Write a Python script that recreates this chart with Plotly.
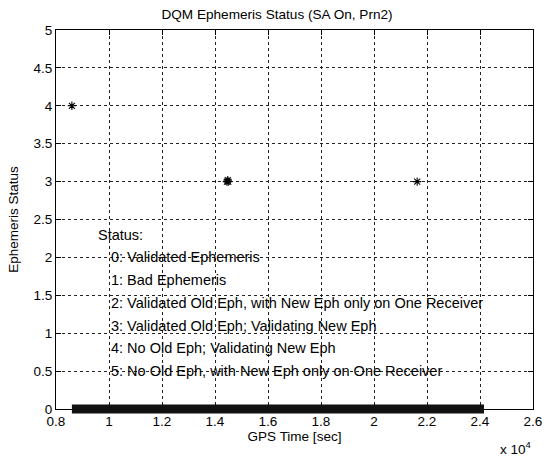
import plotly.graph_objects as go

# ---- data ----
status0_time = [8600, 24150]          # dense run of status 0 samples (start, end)
status0_value = [0, 0]
event_time = [8600, 14450, 14480, 14500, 21630]
event_value = [4, 3, 3.02, 3, 3]

x_tick_labels = ["0.8", "1", "1.2", "1.4", "1.6", "1.8", "2", "2.2", "2.4", "2.6"]
y_tick_labels = ["0", "0.5", "1", "1.5", "2", "2.5", "3", "3.5", "4", "4.5", "5"]

legend_title = "Status:"
legend_lines = [
    "0: Validated Ephemeris",
    "1: Bad Ephemeris",
    "2: Validated Old Eph, with New Eph only on One Receiver",
    "3: Validated Old Eph; Validating New Eph",
    "4: No Old Eph; Validating New Eph",
    "5: No Old Eph, with New Eph only on One Receiver",
]
legend_title_pos = (9500, 2.3)
legend_x = 10000
legend_y = [2.0, 1.7, 1.4, 1.1, 0.8, 0.5]

FONT = "Liberation Sans, Arial, sans-serif"
X_RANGE = [8000, 26000]
Y_RANGE = [0, 5]

# geometry (pixels) used to let the thick status-0 band spill below the axis
PLOT_H_MAIN = 379.0
SPILL = 6.0
px_per_unit = PLOT_H_MAIN / (Y_RANGE[1] - Y_RANGE[0])

fig = go.Figure()
fig.add_trace(go.Scatter(
    x=event_time, y=event_value, mode="markers",
    marker=dict(symbol="asterisk-open", size=7, color="black",
                line=dict(color="black", width=1.1)),
    showlegend=False, xaxis="x", yaxis="y"))
fig.add_trace(go.Scatter(
    x=status0_time, y=status0_value, mode="lines",
    line=dict(color="#111111", width=9), showlegend=False, hoverinfo="skip",
    xaxis="x2", yaxis="y2"))

fig.add_annotation(x=legend_title_pos[0], y=legend_title_pos[1], text=legend_title,
                   showarrow=False, xanchor="left", yanchor="middle",
                   font=dict(family=FONT, size=14.5, color="black"))
for t, yv in zip(legend_lines, legend_y):
    fig.add_annotation(x=legend_x, y=yv, text=t, showarrow=False,
                       xanchor="left", yanchor="middle",
                       font=dict(family=FONT, size=14.5, color="black"))

fig.add_annotation(xref="paper", yref="paper", x=1.0, y=-(442 - 409) / (PLOT_H_MAIN + SPILL),
                   text="x 10<sup>4</sup>",
                   showarrow=False, xanchor="right", yanchor="middle",
                   font=dict(family=FONT, size=13.5, color="black"))

axis_common = dict(
    showline=True, linecolor="black", linewidth=1, mirror="allticks",
    ticks="inside", ticklen=5, tickcolor="black",
    showgrid=True, gridcolor="#222222", gridwidth=1, griddash="dot",
    zeroline=False, tickfont=dict(family=FONT, size=13.5, color="black"),
)

dom_bottom = SPILL / (PLOT_H_MAIN + SPILL)

fig.update_layout(
    width=554, height=458,
    margin=dict(l=56, r=12, t=30, b=49 - SPILL),
    paper_bgcolor="white", plot_bgcolor="rgba(0,0,0,0)",
    title=dict(text="DQM Ephemeris Status (SA On, Prn2)", x=0.5, xanchor="center",
               y=1 - 14 / 458, yanchor="middle",
               font=dict(family=FONT, size=13.6, color="black")),
    showlegend=False,
    xaxis=dict(
        range=X_RANGE, domain=[0, 1], anchor="y",
        tickvals=[float(s) * 1e4 for s in x_tick_labels], ticktext=x_tick_labels,
        title=dict(text="GPS Time [sec]", font=dict(family=FONT, size=13.5, color="black"), standoff=3),
        **axis_common),
    yaxis=dict(
        range=Y_RANGE, domain=[dom_bottom, 1], anchor="x",
        tickvals=[float(s) for s in y_tick_labels], ticktext=y_tick_labels,
        title=dict(text="Ephemeris Status", font=dict(family=FONT, size=13.5, color="black"), standoff=11),
        **axis_common),
    xaxis2=dict(range=X_RANGE, domain=[0, 1], anchor="y2", visible=False, showgrid=False),
    yaxis2=dict(range=[Y_RANGE[0] - SPILL / px_per_unit, Y_RANGE[1]], domain=[0, 1],
                anchor="x2", visible=False, showgrid=False),
)

fig.write_html("out.html")
